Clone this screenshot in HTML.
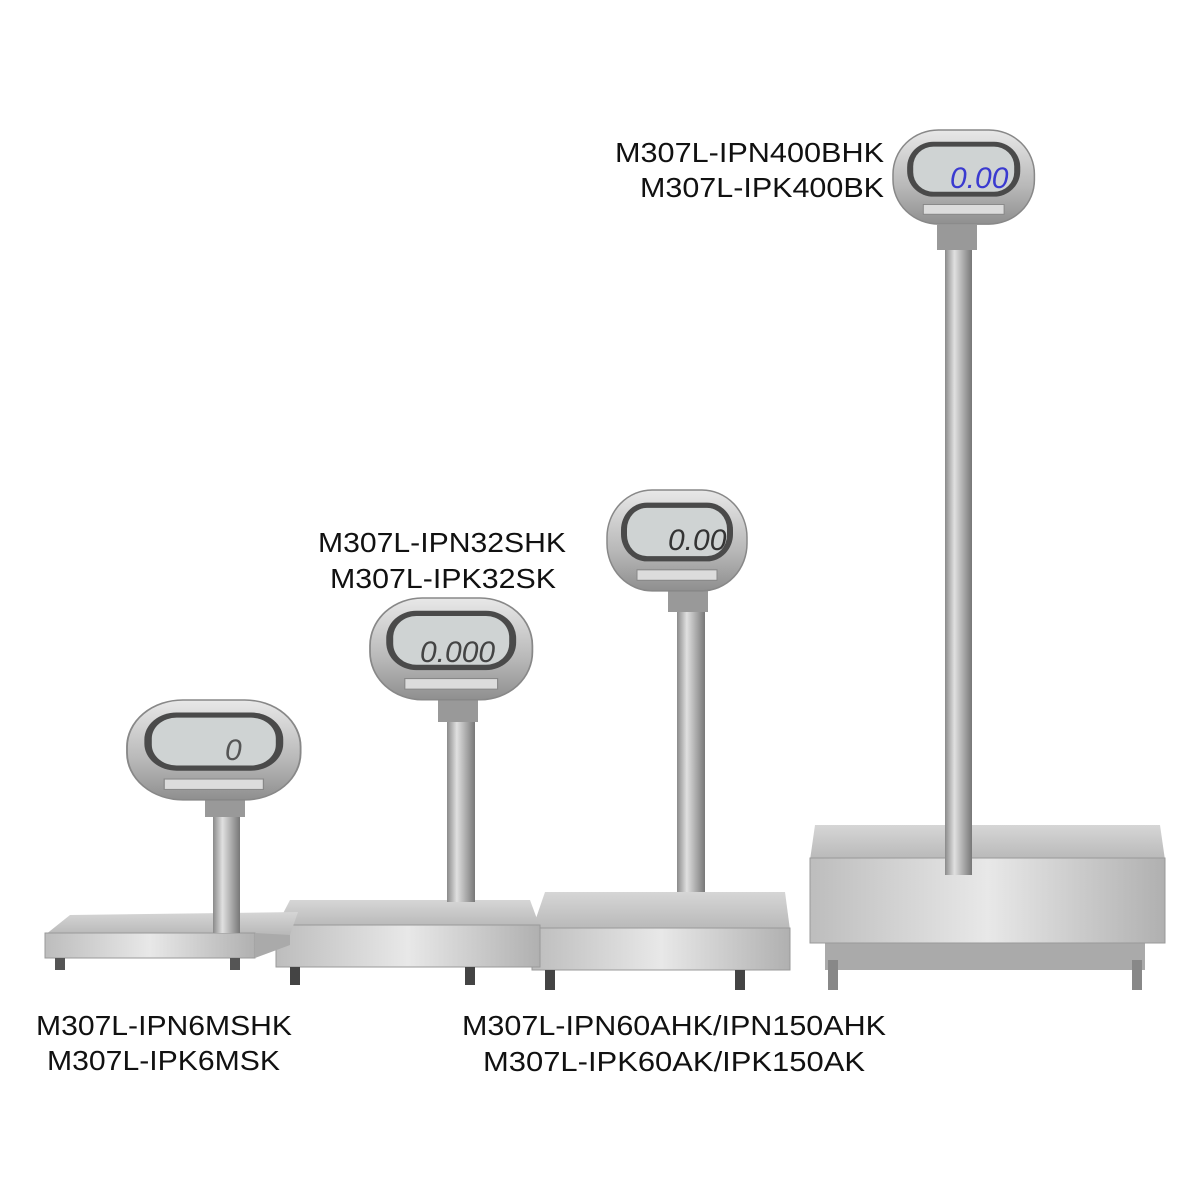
<!DOCTYPE html>
<html><head><meta charset="utf-8"><style>html,body{margin:0;padding:0;background:#fff}svg{display:block}</style></head>
<body>
<svg width="1200" height="1200" viewBox="0 0 1200 1200" xmlns="http://www.w3.org/2000/svg">
<defs>
<linearGradient id="pole" x1="0" x2="1"><stop offset="0" stop-color="#8a8a8a"/><stop offset="0.35" stop-color="#e0e0e0"/><stop offset="0.7" stop-color="#a8a8a8"/><stop offset="1" stop-color="#777"/></linearGradient>
<linearGradient id="front" x1="0" x2="1"><stop offset="0" stop-color="#bdbdbd"/><stop offset="0.5" stop-color="#e8e8e8"/><stop offset="1" stop-color="#b0b0b0"/></linearGradient>
<linearGradient id="top" x1="0" y1="0" x2="0" y2="1"><stop offset="0" stop-color="#d6d6d6"/><stop offset="1" stop-color="#b8b8b8"/></linearGradient>
<linearGradient id="case" x1="0" y1="0" x2="0" y2="1"><stop offset="0" stop-color="#e8e8e8"/><stop offset="0.6" stop-color="#b8b8b8"/><stop offset="1" stop-color="#8f8f8f"/></linearGradient>
<g id="head">
<rect x="0" y="0" width="140" height="96" rx="45" fill="url(#case)" stroke="#888" stroke-width="1.5"/>
<rect x="14" y="12" width="112" height="56" rx="26" fill="#4a4a4a"/>
<rect x="20" y="17" width="100" height="46" rx="20" fill="#cfd3d3"/>
<rect x="30" y="76" width="80" height="10" fill="#dcdcdc" stroke="#888" stroke-width="1"/>
</g>
</defs>
<g font-family="Liberation Sans, DejaVu Sans, sans-serif" font-size="28" fill="#111">
<text x="615" y="162" textLength="269" lengthAdjust="spacingAndGlyphs">M307L-IPN400BHK</text>
<text x="640" y="197" textLength="244" lengthAdjust="spacingAndGlyphs">M307L-IPK400BK</text>
<text x="318" y="552" textLength="248" lengthAdjust="spacingAndGlyphs">M307L-IPN32SHK</text>
<text x="330" y="588" textLength="226" lengthAdjust="spacingAndGlyphs">M307L-IPK32SK</text>
<text x="36" y="1035" textLength="256" lengthAdjust="spacingAndGlyphs">M307L-IPN6MSHK</text>
<text x="47" y="1070" textLength="233" lengthAdjust="spacingAndGlyphs">M307L-IPK6MSK</text>
<text x="462" y="1035" textLength="424" lengthAdjust="spacingAndGlyphs">M307L-IPN60AHK/IPN150AHK</text>
<text x="483" y="1071" textLength="382" lengthAdjust="spacingAndGlyphs">M307L-IPK60AK/IPK150AK</text>
</g>
<!-- scale 4 -->
<rect x="825" y="940" width="320" height="30" fill="#aaa"/>
<rect x="828" y="960" width="10" height="30" fill="#888"/><rect x="1132" y="960" width="10" height="30" fill="#888"/>
<polygon points="815,825 1160,825 1165,860 810,860" fill="url(#top)"/>
<rect x="810" y="858" width="355" height="85" fill="url(#front)" stroke="#999"/>
<rect x="945" y="250" width="27" height="625" fill="url(#pole)"/>
<rect x="937" y="225" width="40" height="25" fill="#999"/>
<use href="#head" x="893" y="130" transform="translate(893 130) scale(1.01 0.98) translate(-893 -130)"/>
<text x="950" y="188" font-family="Liberation Sans,sans-serif" font-size="30" fill="#3a3ad0" font-style="italic">0.00</text>
<!-- scale 3 -->
<polygon points="545,892 785,892 790,930 532,930" fill="url(#top)"/>
<rect x="532" y="928" width="258" height="42" fill="url(#front)" stroke="#999"/>
<rect x="545" y="970" width="10" height="20" fill="#444"/><rect x="735" y="970" width="10" height="20" fill="#444"/>
<rect x="677" y="610" width="28" height="282" fill="url(#pole)"/>
<rect x="668" y="590" width="40" height="22" fill="#999"/>
<use href="#head" transform="translate(607 490) scale(1.0 1.05)"/>
<text x="668" y="550" font-family="Liberation Sans,sans-serif" font-size="30" fill="#333" font-style="italic">0.00</text>
<!-- scale 2 -->
<polygon points="290,900 530,900 540,927 276,927" fill="url(#top)"/>
<rect x="276" y="925" width="264" height="42" fill="url(#front)" stroke="#999"/>
<rect x="290" y="967" width="10" height="18" fill="#444"/><rect x="465" y="967" width="10" height="18" fill="#444"/>
<rect x="447" y="720" width="28" height="182" fill="url(#pole)"/>
<rect x="438" y="700" width="40" height="22" fill="#999"/>
<use href="#head" transform="translate(370 598) scale(1.16 1.06)"/>
<text x="420" y="662" font-family="Liberation Sans,sans-serif" font-size="30" fill="#444" font-style="italic">0.000</text>
<!-- scale 1 -->
<polygon points="70,915 298,912 290,935 45,935" fill="url(#top)"/>
<rect x="45" y="933" width="210" height="25" fill="url(#front)" stroke="#999"/>
<polygon points="255,933 290,935 290,945 255,958" fill="#aaa"/>
<rect x="55" y="958" width="10" height="12" fill="#555"/><rect x="230" y="958" width="10" height="12" fill="#555"/>
<rect x="213" y="815" width="27" height="118" fill="url(#pole)"/>
<rect x="205" y="795" width="40" height="22" fill="#999"/>
<use href="#head" transform="translate(127 700) scale(1.24 1.04)"/>
<text x="225" y="760" font-family="Liberation Sans,sans-serif" font-size="30" fill="#555" font-style="italic">0</text>
</svg>
</body></html>
